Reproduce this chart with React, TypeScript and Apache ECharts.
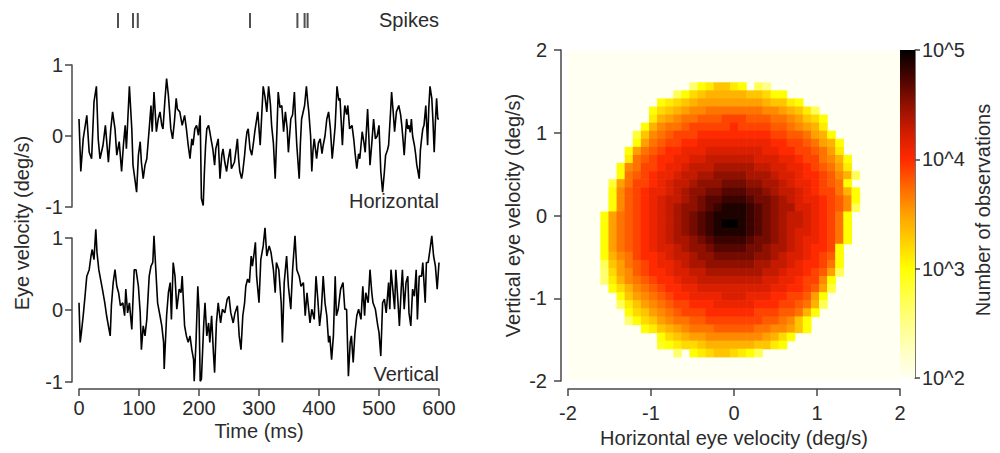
import React, { useEffect, useRef } from "react";
import * as echarts from "echarts";

// ---------- data ----------
const spikeTimes = [65, 90, 98, 285, 364, 376, 381];

const hTime = [
  0, 3, 7, 13, 17, 21, 25, 29, 32, 35, 40, 44, 49, 53, 56, 60, 63, 67, 71, 74, 77, 79, 84, 88, 90, 96, 99, 102, 104, 107,
  110, 113, 117, 120, 122, 125, 129, 132, 135, 138, 140, 143, 146, 149, 151, 153, 156, 159, 162, 164, 168, 172, 176, 179,
  182, 185, 188, 190, 193, 196, 199, 202, 204, 207, 209, 211, 213, 216, 218, 220, 223, 226, 228, 232, 235, 238, 240, 243,
  246, 249, 252, 254, 259, 262, 264, 266, 268, 271, 273, 276, 278, 280, 282, 285, 288, 291, 293, 298, 302, 307, 310, 313,
  316, 319, 321, 324, 327, 330, 332, 335, 338, 341, 344, 347, 349, 353, 356, 359, 361, 363, 367, 369, 371, 376, 379, 381,
  383, 386, 388, 390, 392, 396, 399, 402, 405, 407, 410, 413, 416, 419, 422, 425, 427, 430, 433, 435, 437, 439, 441, 443,
  446, 448, 451, 455, 458, 460, 463, 466, 468, 472, 475, 477, 481, 483, 485, 488, 491, 494, 497, 500, 503, 506, 509, 511,
  514, 516, 519, 521, 524, 526, 529, 533, 536, 538, 540, 542, 544, 546, 548, 550, 552, 554, 556, 559, 561, 563, 565, 567,
  569, 571, 573, 575, 578, 581, 583, 585, 588, 590, 592, 594, 596, 598, 600,
];
const hVel = [
  0.24, -0.5, -0.04, 0.29, -0.23, -0.32, 0.48, 0.7, -0.04, -0.32, -0.13, 0.15, -0.37, 0.1, 0.34, 0.1, -0.27, -0.08, -0.5,
  -0.13, 0.15, -0.18, 0.7, 0.1, -0.41, -0.79, -0.27, -0.08, -0.37, -0.6, -0.41, -0.32, 0.1, 0.43, 0.06, 0.62, 0.06, 0.24,
  0.34, 0.15, 0.1, 0.48, 0.81, 0.57, 0.34, 0.1, -0.04, 0.2, 0.53, 0.38, 0.34, 0.15, 0.29, 0.1, -0.13, -0.32, -0.04, -0.13,
  0.1, 0.15, 0.01, 0.29, -0.88, -0.98, -0.5, -0.13, 0.1, 0.15, 0.06, -0.04, -0.18, -0.41, -0.18, -0.04, -0.6, -0.27, -0.18,
  -0.37, -0.5, -0.32, -0.18, -0.46, -0.37, -0.18, -0.04, -0.32, -0.5, -0.6, -0.5, -0.27, -0.08, 0.06, 0.1, -0.18, -0.27,
  -0.08, 0.06, 0.34, -0.13, 0.7, 0.55, 0.34, 0.7, 0.45, 0.15, -0.1, -0.6, 0.1, 0.62, 0.4, 0.43, 0.06, 0.34, 0.1, -0.23,
  0.24, 0.3, 0.62, 0.2, -0.13, -0.6, -0.1, 0.24, 0.43, 0.7, 0.5, 0.34, 0.0, -0.5, -0.2, -0.04, -0.32, -0.1, -0.04, -0.25,
  -0.13, 0.0, 0.24, 0.34, 0.1, -0.32, -0.05, 0.15, 0.7, 0.5, 0.53, 0.2, -0.13, 0.2, 0.43, 0.3, 0.43, 0.1, 0.15, -0.05,
  -0.23, -0.46, -0.25, -0.32, 0.06, -0.1, -0.23, 0.38, 0.0, -0.41, -0.1, 0.24, -0.04, 0.0, 0.15, -0.5, -0.79, -0.5, -0.27,
  -0.2, -0.13, 0.3, 0.62, 0.3, 0.06, 0.34, 0.43, 0.3, 0.15, -0.05, -0.27, 0.0, 0.24, 0.1, 0.15, 0.05, 0.24, 0.0, -0.13,
  -0.25, -0.41, -0.5, -0.6, -0.2, -0.04, 0.1, 0.15, 0.43, -0.13, 0.4, 0.7, 0.53, 0.2, -0.23, 0.2, 0.53, 0.24, 0.24,
];

const vTime = [
  0, 2, 4, 7, 10, 13, 17, 20, 22, 25, 28, 30, 33, 37, 39, 43, 46, 49, 52, 54, 57, 60, 63, 66, 69, 73, 76, 78, 81, 84, 88,
  92, 95, 99, 102, 104, 107, 110, 113, 117, 120, 123, 125, 128, 131, 135, 138, 141, 142, 146, 149, 152, 154, 157, 160, 163,
  167, 170, 172, 176, 179, 182, 185, 188, 191, 192, 195, 198, 200, 202, 204, 208, 210, 213, 216, 218, 221, 224, 226, 229,
  232, 236, 239, 243, 247, 250, 253, 257, 260, 264, 267, 270, 273, 276, 278, 281, 284, 287, 289, 292, 294, 296, 300, 303,
  307, 310, 313, 317, 320, 324, 327, 329, 333, 337, 339, 342, 346, 349, 353, 356, 360, 363, 367, 370, 374, 377, 380, 385,
  388, 392, 395, 398, 401, 404, 407, 410, 413, 416, 418, 421, 424, 427, 429, 432, 436, 440, 443, 446, 449, 452, 454, 457,
  460, 463, 466, 470, 473, 476, 478, 482, 485, 488, 490, 494, 498, 500, 503, 506, 509, 512, 516, 518, 520, 523, 526, 528,
  531, 534, 537, 539, 542, 545, 548, 550, 553, 556, 559, 562, 564, 567, 571, 573, 577, 579, 582, 585, 588, 591, 594, 597,
  600,
];
const vVel = [
  0.1, -0.45, -0.31, -0.08, 0.19, 0.47, 0.56, 0.75, 0.84, 0.7, 1.12, 0.8, 0.56, 0.38, 0.29, 0.1, -0.08, -0.22, -0.36, 0.06,
  0.38, 0.56, 0.33, 0.24, 0.06, 0.1, -0.08, 0.29, -0.04, 0.1, -0.27, 0.56, 0.56, 0.33, -0.04, -0.55, -0.22, -0.36, -0.13,
  0.47, 0.61, 0.66, 1.03, 0.56, 0.1, -0.08, -0.22, -0.45, -0.82, -0.08, 0.24, 0.38, -0.13, 0.66, 0.47, 0.01, 0.29, 0.24,
  0.47, -0.22, -0.36, -0.45, -0.36, -0.55, -0.69, -0.99, -0.45, 0.33, 0.01, -0.99, -0.96, -0.18, 0.1, -0.36, -0.18, -0.45,
  -0.08, -0.59, -0.87, -0.18, 0.1, -0.18, 0.01, -0.04, 0.15, 0.19, -0.04, -0.18, -0.04, 0.06, -0.36, -0.55, -0.08, 0.1,
  0.33, 0.43, 0.38, 0.75, 0.61, 0.8, 0.94, 0.47, 0.1, 0.7, 0.89, 1.14, 0.75, 0.89, 0.8, 0.56, 0.24, 0.66, 0.56, 0.1, -0.45,
  0.38, 0.75, 0.33, 0.01, 0.56, 1.03, 0.56, 0.47, 0.33, 0.38, -0.08, 0.24, -0.18, 0.01, -0.13, 0.47, 0.15, -0.22, 0.01,
  0.47, 0.1, -0.08, -0.45, -0.36, -0.69, -0.36, 0.47, -0.08, 0.01, 0.29, 0.38, 0.01, 0.01, -0.92, -0.45, -0.36, -0.73,
  -0.31, -0.08, 0.01, -0.13, 0.33, -0.08, 0.24, 0.1, 0.56, 0.24, 0.1, 0.01, -0.22, -0.31, -0.64, 0.1, 0.15, -0.04, 0.38,
  0.01, 0.56, 0.29, 0.01, 0.56, 0.19, -0.22, 0.29, 0.56, 0.01, 0.38, 0.47, -0.04, -0.22, 0.29, 0.19, 0.56, -0.13, 0.47,
  0.47, 0.66, 0.1, 0.66, 0.66, 0.84, 1.03, 0.75, 0.61, 0.29, 0.66,
];

// 2D histogram: 41 x 41 bins over [-2, 2] x [-2, 2], row 0 = top (highest vertical velocity).
// Each character is log10(count) = 2 + 0.1 * index in levelCodes; "." = empty bin.
const levelCodes = "0123456789ABCDEFGHIJKLMNOPQRSTU";
const heatRowStart = [
  0, 0, 0, 0, 15, 13, 11, 10, 10, 9, 8, 8, 7, 7, 6, 6, 5, 5, 5, 5, 4, 4, 4, 4, 4, 4, 4, 4, 4, 5, 6, 6, 7, 7, 9, 11, 11, 13,
  0, 0, 0,
];
const heatRowCodes = [
  "",
  "",
  "",
  "",
  "6ABDDBA.75",
  "7ACDEEEEEDDCAA",
  "ABCDEFFFFFFFFEDDBA",
  "ACDEFGGHHHHHHHGGFEDB7",
  "BEFGHHIIIJJJIIIHHGFDCA",
  "AEGHHIJJJJJKJJJJIIHGFEB",
  "8DGHIJJJKKKKKKKKKJJIIHFEA",
  "AFHIJJKKLLLLLLLLLKKJJIHFEA",
  "AFHIJKKLLLMMMMMMMLLKKJJIHFB",
  "BHIJKKLLMMNNNNNNMMMLLKJJHGEA",
  "AGHJJKLLMNNNOOOOONNMMLLKJIHFB",
  "AHIJKLLMNNOOPPPPOOONMMLKKJIGE7",
  "8FHJJKLMNNOPPPQQQPPOONMLLKJIHA",
  "AGIJKLLMNOPPQQRRRQQPONNMLKJJHEA",
  "AGIJKLMNNOPQRRSSSRQQPONMLLKJIGA",
  "AGIJKLMNOPPQRSTTTSRQPOOMMLKJIG7",
  "AFHIJKLMNOPQRSTTTTSRQPONNMLKJHA",
  "AFHIJKLMNOPQRSTUUTSRQPONNMLKJHA",
  "AFHIJKLMNOPQRSTTTTSRQPONMMLKJHA",
  "AFHIJKLMNOOPQRSSSSRQQPONMLLKJHA",
  "AFHIJKLMMNOPPQRRRRQQPOONMLKKJA",
  "AEGHJKKLMNNOPPQQQQQPPONMMLKJIA",
  "7DFHIJKLLMNOOPPPPPPOONNMLKKJHA",
  "6CFGIJKKLMMNNOOOOOOONNMLLKJIF7",
  "6BEGHIJKKLMMNNNNNNNNMMLLKJJGA",
  "ACEGHIJKKLLMMMMMMMMMLLKKJIF8",
  "ADFGHIJKKLLLLMMMLLLKKJJIFA",
  "7BDFGHIJJKKKLLLLLKKKJJIHE7",
  "ACDFGHIJJJKKKKKKJJJIIHEA",
  "6ACDFGHHIIJJJJJJJIIHGDA",
  "ABDEFGHHHIIIIIHHGGFDA",
  "ACDEFFGGGGGGGFECA",
  "9ABCCDEEEEEEDDBA",
  "6.ABCDDCBA7",
  "",
  "",
  "",
];
const binCount = 41;
const colorbarDecades = [2, 3, 4, 5];
// colour ramp, evenly spaced over log10(count) from 2 to 5 (steps of 0.25)
const cmapColors = [
  "#fffff2",
  "#ffffc0",
  "#ffff88",
  "#ffff48",
  "#ffff00",
  "#ffd000",
  "#ffa000",
  "#ff6800",
  "#ff2a00",
  "#d01c00",
  "#901000",
  "#480400",
  "#000000",
];

// ---------- styling ----------
const FONT = "'Liberation Sans', Arial, Helvetica, sans-serif";
const FS = 20;
const TEXT = "#2b2b2b";
const AXIS = "#474747";

const pairs = (t: number[], v: number[]) => t.map((x, i) => [x, v[i]]);

function heatData() {
  const w = 4 / binCount;
  const out: number[][] = [];
  heatRowCodes.forEach((codes, r) => {
    for (let k = 0; k < codes.length; k++) {
      const lv = levelCodes.indexOf(codes[k]);
      if (lv < 0) continue;
      const c = heatRowStart[r] + k;
      out.push([-2 + (c + 0.5) * w, 2 - (r + 0.5) * w, 2 + lv * 0.1]);
    }
  });
  return out;
}

const lineStyle = { color: AXIS, width: 1.5 };
const labelStyle = { color: TEXT, fontSize: FS, fontFamily: FONT };

function valueAxis(extra: any) {
  return {
    type: "value",
    axisLine: { show: true, onZero: false, lineStyle },
    axisTick: { show: true, length: 7, lineStyle },
    axisLabel: { ...labelStyle, margin: 9 },
    splitLine: { show: false },
    nameTextStyle: { ...labelStyle },
    ...extra,
  };
}

function textEl(text: string, x: number, y: number, align: string, rotation = 0) {
  return {
    type: "text",
    x,
    y,
    rotation,
    silent: true,
    style: {
      text,
      fill: TEXT,
      font: `${FS}px ${FONT}`,
      fontSize: FS,
      fontFamily: FONT,
      align,
      textAlign: align,
      verticalAlign: "middle",
      textVerticalAlign: "middle",
    },
  };
}

function buildOption(): any {
  const half = 2 / binCount;
  const gradient = new echarts.graphic.LinearGradient(
    0,
    0,
    0,
    1,
    cmapColors
      .slice()
      .reverse()
      .map((c, i) => ({ offset: i / (cmapColors.length - 1), color: c }))
  );
  return {
    animation: false,
    backgroundColor: "#ffffff",
    grid: [
      { left: 79, top: 13, width: 360, height: 15 },
      { left: 79, top: 65, width: 360, height: 142 },
      { left: 79, top: 238, width: 360, height: 144 },
      { left: 568, top: 50, width: 332, height: 331, show: true, backgroundColor: cmapColors[0], borderWidth: 0 },
      { left: 900, top: 50, width: 15, height: 328 },
    ],
    xAxis: [
      { gridIndex: 0, type: "value", min: 0, max: 600, show: false },
      { gridIndex: 1, type: "value", min: 0, max: 600, show: false },
      valueAxis({
        gridIndex: 2,
        min: 0,
        max: 600,
        interval: 100,
        offset: 7,
        name: "Time (ms)",
        nameLocation: "middle",
        nameGap: 32,
      }),
      valueAxis({
        gridIndex: 3,
        min: -2,
        max: 2,
        interval: 1,
        offset: 8,
        axisLabel: { ...labelStyle, margin: 14 },
        name: "Horizontal eye velocity (deg/s)",
        nameLocation: "middle",
        nameGap: 37,
      }),
      { gridIndex: 4, type: "value", min: 0, max: 1, show: false },
    ],
    yAxis: [
      { gridIndex: 0, type: "value", min: 0, max: 1, show: false },
      valueAxis({ gridIndex: 1, min: -1, max: 1, interval: 1, offset: 7 }),
      valueAxis({ gridIndex: 2, min: -1, max: 1, interval: 1, offset: 7 }),
      valueAxis({
        gridIndex: 3,
        min: -2,
        max: 2,
        interval: 1,
        offset: 7,
        axisLabel: { ...labelStyle, margin: 14 },
        name: "Vertical eye velocity (deg/s)",
        nameLocation: "middle",
        nameGap: 38,
      }),
      valueAxis({
        gridIndex: 4,
        min: colorbarDecades[0],
        max: colorbarDecades[colorbarDecades.length - 1],
        interval: 1,
        position: "right",
        axisTick: { show: true, length: 5, lineStyle },
        axisLabel: { ...labelStyle, margin: 7, formatter: (v: number) => "10^" + v },
      }),
    ],
    visualMap: [
      {
        type: "continuous",
        show: false,
        seriesIndex: 3,
        dimension: 2,
        min: 2,
        max: 5,
        inRange: { color: cmapColors },
      },
    ],
    graphic: [
      textEl("Spikes", 439, 20, "right"),
      textEl("Horizontal", 439, 201, "right"),
      textEl("Vertical", 439, 374, "right"),
      textEl("Eye velocity (deg/s)", 22, 223, "center", Math.PI / 2),
      textEl("Number of observations", 983, 210, "center", Math.PI / 2),
    ],
    series: [
      {
        type: "scatter",
        xAxisIndex: 0,
        yAxisIndex: 0,
        data: spikeTimes.map((t) => [t, 0.5]),
        symbol: "rect",
        symbolSize: [2, 15],
        itemStyle: { color: "#262626" },
        silent: true,
      },
      {
        type: "line",
        xAxisIndex: 1,
        yAxisIndex: 1,
        data: pairs(hTime, hVel),
        showSymbol: false,
        clip: false,
        lineStyle: { color: "#000", width: 1.6 },
        silent: true,
      },
      {
        type: "line",
        xAxisIndex: 2,
        yAxisIndex: 2,
        data: pairs(vTime, vVel),
        showSymbol: false,
        clip: false,
        lineStyle: { color: "#000", width: 1.6 },
        silent: true,
      },
      {
        type: "custom",
        xAxisIndex: 3,
        yAxisIndex: 3,
        dimensions: ["x", "y", "logCount"],
        encode: { x: 0, y: 1 },
        data: heatData(),
        silent: true,
        renderItem: (_p: any, api: any) => {
          const x = api.value(0);
          const y = api.value(1);
          const a = api.coord([x - half, y + half]);
          const b = api.coord([x + half, y - half]);
          return {
            type: "rect",
            shape: { x: a[0], y: a[1], width: b[0] - a[0] + 0.6, height: b[1] - a[1] + 0.6 },
            style: { fill: api.visual("color") },
          };
        },
      },
      {
        type: "custom",
        xAxisIndex: 4,
        yAxisIndex: 4,
        data: [[0, 2]],
        silent: true,
        renderItem: (_p: any, api: any) => {
          const a = api.coord([0, 5]);
          const b = api.coord([1, 2]);
          return {
            type: "rect",
            shape: { x: a[0], y: a[1], width: b[0] - a[0], height: b[1] - a[1] },
            style: { fill: gradient },
          };
        },
      },
    ],
  };
}

export default function App() {
  const ref = useRef<HTMLDivElement>(null);
  useEffect(() => {
    if (!ref.current) return;
    const chart = echarts.init(ref.current, null, { renderer: "svg" });
    chart.setOption(buildOption());
    return () => chart.dispose();
  }, []);
  return (
    <div
      ref={ref}
      style={{ position: "fixed", left: 0, top: 0, width: 1000, height: 453, background: "#fff" }}
    />
  );
}
